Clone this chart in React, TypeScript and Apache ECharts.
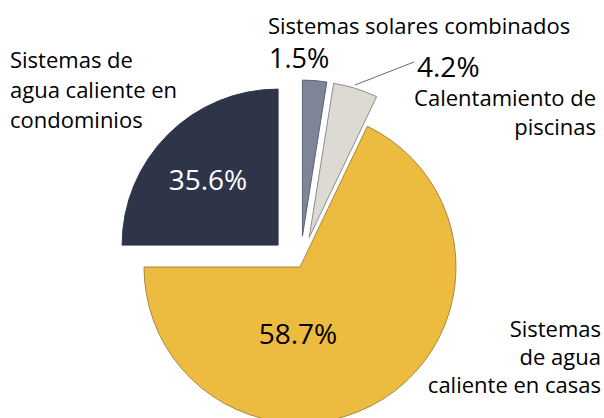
import React, { useEffect, useRef } from "react";
import * as echarts from "echarts";

// Categories in drawing order (clockwise from the yellow slice)
const categories = [
  "Sistemas de agua caliente en casas",
  "Sistemas de agua caliente en condominios",
  "Sistemas solares combinados",
  "Calentamiento de piscinas",
];
// Percentages printed on the chart
const percentLabels = ["58.7%", "35.6%", "1.5%", "4.2%"];
// Angular share of each slice as drawn in the picture (degrees)
const sliceSweep = [244.4, 90, 9.0, 16.6];
// Which slices are pulled out
const exploded = [false, true, true, true];

const colors = ["#ecbb3f", "#2e3549", "#7f8599", "#dddad3"];
const borders = ["#a8893c", "#2e3549", "#5d6275", "#8d8d8d"];

const FONT = "'Open Sans', 'Noto Sans', sans-serif";

export default function App() {
  const ref = useRef<HTMLDivElement>(null);
  useEffect(() => {
    if (!ref.current) return;
    const chart = echarts.init(ref.current, undefined, { renderer: "svg" });
    const txt = (
      text: string,
      x: number,
      y: number,
      size: number,
      align: string,
      color = "#000"
    ) => ({
      type: "text",
      x,
      y,
      z: 100,
      silent: true,
      style: {
        text,
        fill: color,
        font: `${size}px ${FONT}`,
        lineHeight: size,
        align,
        verticalAlign: "middle",
      },
    });
    const S = 22;
    chart.setOption({
      animation: false,
      backgroundColor: "#ffffff",
      series: [
        {
          type: "pie",
          center: [300, 267],
          radius: [0, 156],
          startAngle: 64.4,
          clockwise: true,
          selectedMode: "multiple",
          selectedOffset: 31,
          avoidLabelOverlap: false,
          label: { show: false },
          labelLine: { show: false },
          emphasis: { disabled: true },
          data: categories.map((name, i) => ({
            name,
            value: sliceSweep[i],
            selected: exploded[i],
            itemStyle: { color: colors[i], borderColor: borders[i], borderWidth: 1 },
            select: { itemStyle: { color: colors[i], borderColor: borders[i], borderWidth: 1 } },
          })),
        },
      ],
      graphic: [
        // Left label (condominios)
        txt("Sistemas de", 10, 59, S, "left"),
        txt("agua caliente en", 10, 89, S, "left"),
        txt("condominios", 10, 119, S, "left"),
        // Solar combined
        txt(categories[2], 268, 25, S, "left"),
        txt(percentLabels[2], 269, 57, 27, "left"),
        // Pools
        txt(percentLabels[3], 417, 66, 28, "left"),
        txt("Calentamiento de", 596, 97, S, "right"),
        txt("piscinas", 596, 126, S, "right"),
        // Houses
        txt("Sistemas", 601, 328, S, "right"),
        txt("de agua", 601, 356, S, "right"),
        txt("caliente en casas", 601, 384, S, "right"),
        // Inside labels
        txt(percentLabels[1], 208, 179, 28, "center", "#ffffff"),
        txt(percentLabels[0], 298, 333, 28, "center", "#000000"),
        // Leader line for pools
        {
          type: "line",
          z: 100,
          silent: true,
          shape: { x1: 355, y1: 85, x2: 414, y2: 62 },
          style: { stroke: "#6b6b6b", lineWidth: 1 },
        },
      ],
    });
    return () => chart.dispose();
  }, []);
  return (
    <div
      ref={ref}
      style={{ position: "fixed", left: 0, top: 0, width: 604, height: 418 }}
    />
  );
}
